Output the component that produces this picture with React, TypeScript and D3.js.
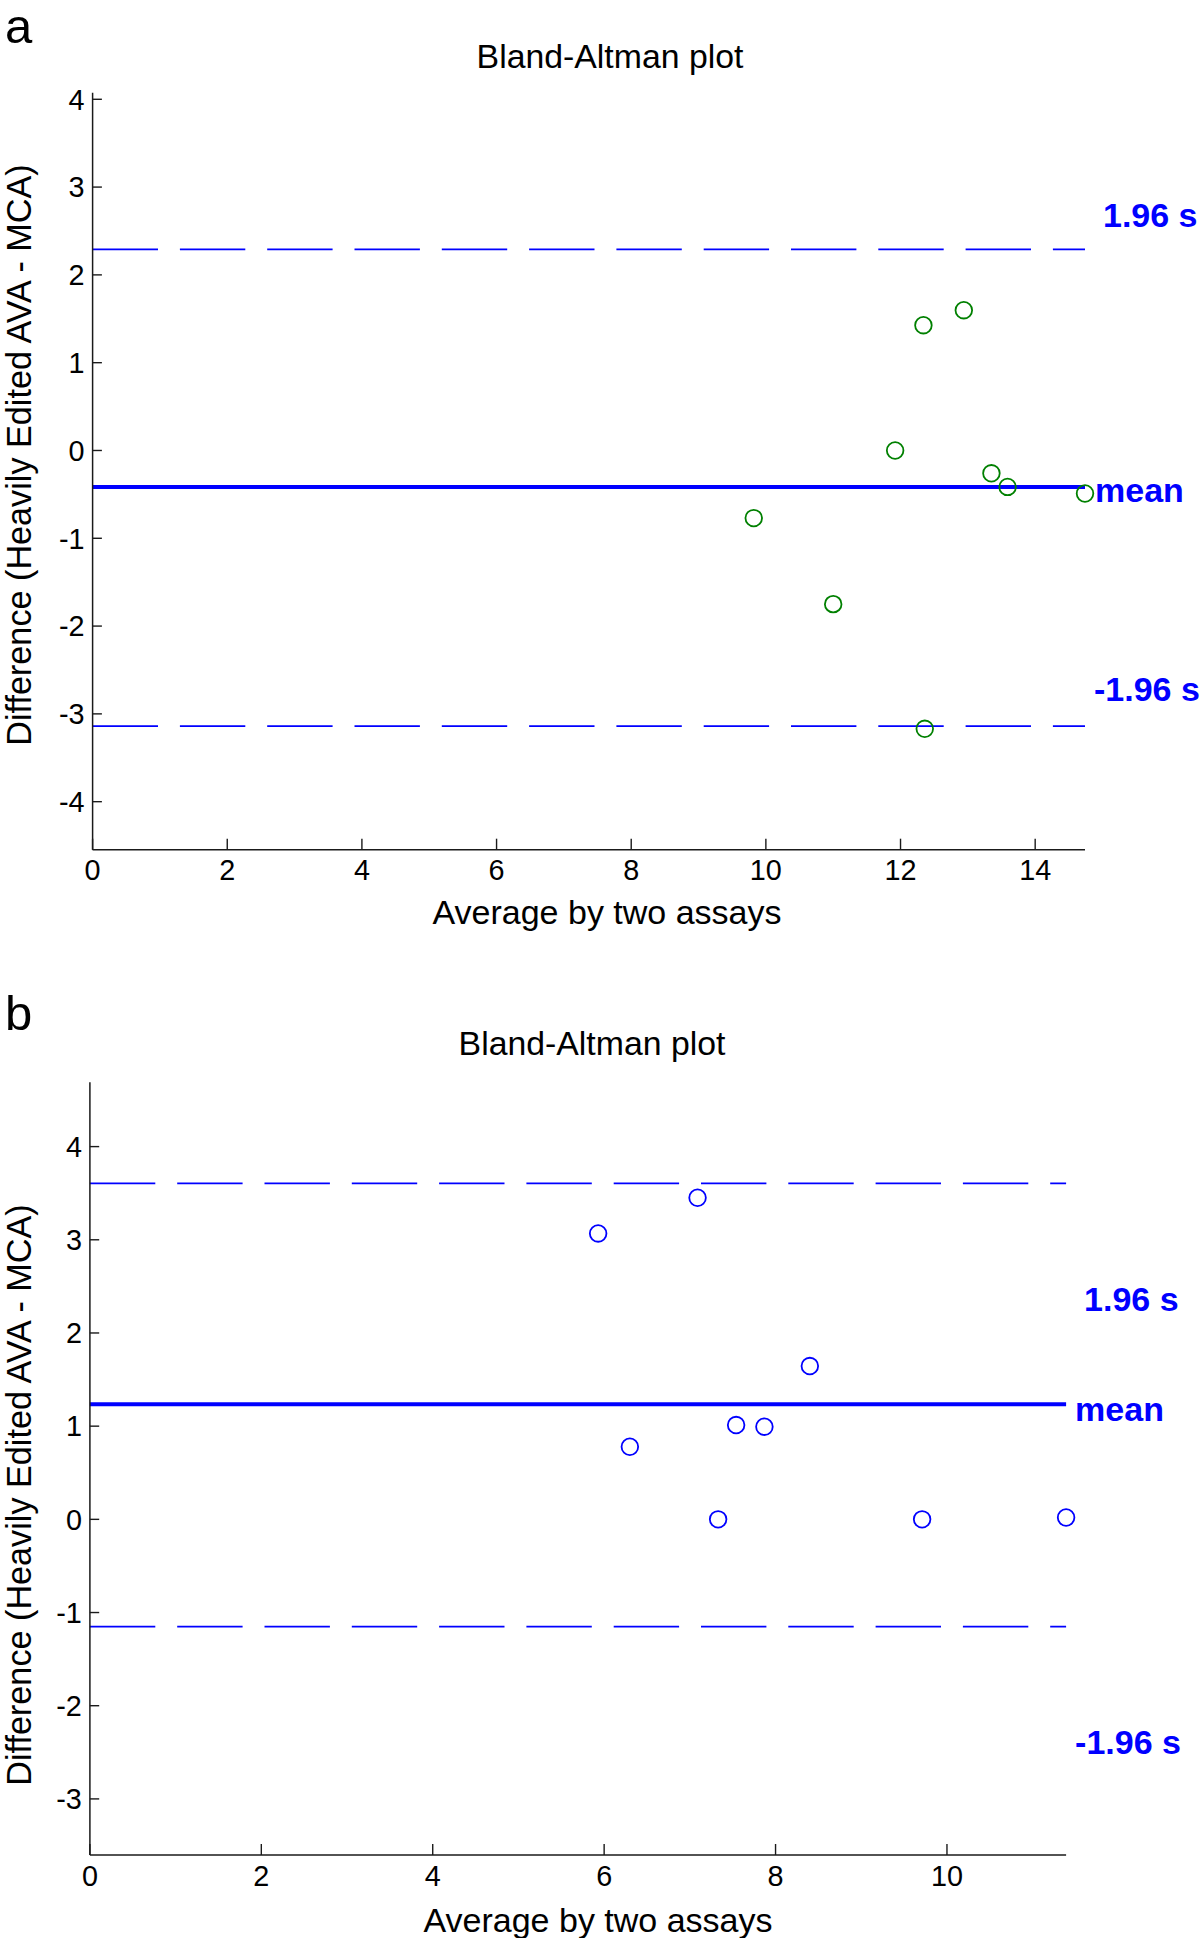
import React from "react";
import * as d3 from "d3";

// ---------- Data ----------
// Panel a
const avgA = [9.82, 11.0, 12.36, 13.35, 13.59, 14.74, 11.92, 12.34, 12.94];
const diffA = [-0.77, -1.75, -3.17, -0.26, -0.415, -0.49, 0.0, 1.427, 1.598];
const linesA = [2.29, -0.415, -3.14]; // +1.96 s, mean, -1.96 s
const xTicksA = [0, 2, 4, 6, 8, 10, 12, 14];
const yTicksA = [-4, -3, -2, -1, 0, 1, 2, 3, 4];

// Panel b
const avgB = [5.93, 7.09, 8.4, 6.3, 7.54, 7.87, 7.33, 9.71, 11.39];
const diffB = [3.068, 3.451, 1.645, 0.779, 1.012, 0.994, 0.0, 0.0, 0.02];
const linesB = [3.606, 1.234, -1.152];
const xTicksB = [0, 2, 4, 6, 8, 10];
const yTicksB = [-3, -2, -1, 0, 1, 2, 3, 4];

const lineLabels = ["1.96 s", "mean", "-1.96 s"];
const titleText = "Bland-Altman plot";
const xLabelText = "Average by two assays";
const yLabelText = "Difference (Heavily Edited AVA - MCA)";

// ---------- Layout / style ----------
const FONT = "'Liberation Sans', Arial, Helvetica, sans-serif";
const BLUE = "#0000ff";

type PanelCfg = {
  letter: string;
  letterY: number;
  avg: number[];
  diff: number[];
  lines: number[];
  xTicks: number[];
  yTicks: number[];
  xDomain: [number, number];
  yDomain: [number, number];
  xRange: [number, number];
  yRange: [number, number];
  pointColor: string;
  titleX: number;
  titleY: number;
  xLabelX: number;
  xLabelY: number;
  yLabelCY: number;
  labelAt: number[]; // label baselines in data units
  labelDx: number[];
};

const panels: PanelCfg[] = [
  {
    letter: "a",
    letterY: 43,
    avg: avgA,
    diff: diffA,
    lines: linesA,
    xTicks: xTicksA,
    yTicks: yTicksA,
    xDomain: [0, 14.74],
    yDomain: [-4.547, 4.075],
    xRange: [92.6, 1085],
    yRange: [849.7, 92.7],
    pointColor: "#008000",
    titleX: 610,
    titleY: 68,
    xLabelX: 607,
    xLabelY: 924,
    yLabelCY: 455,
    labelAt: [2.543, -0.589, -2.855],
    labelDx: [18, 10, 9],
  },
  {
    letter: "b",
    letterY: 1030,
    avg: avgB,
    diff: diffB,
    lines: linesB,
    xTicks: xTicksB,
    yTicks: yTicksB,
    xDomain: [0, 11.39],
    yDomain: [-3.602, 4.69],
    xRange: [89.9, 1066.1],
    yRange: [1855, 1082.3],
    pointColor: BLUE,
    titleX: 592,
    titleY: 1055,
    xLabelX: 598,
    xLabelY: 1932,
    yLabelCY: 1495,
    labelAt: [2.235, 1.055, -2.52],
    labelDx: [18, 9, 9],
  },
];

function Panel({ p }: { p: PanelCfg }) {
  const x = d3.scaleLinear().domain(p.xDomain).range(p.xRange);
  const y = d3.scaleLinear().domain(p.yDomain).range(p.yRange);
  const x0 = x(p.xDomain[0]);
  const x1 = x(p.xDomain[1]);
  const yBot = y(p.yDomain[0]);
  const yTop = y(p.yDomain[1]);
  const axisColor = "#1a1a1a";
  return (
    <g>
      <text x={5} y={p.letterY} fontFamily={FONT} fontSize={49} fill="#000">
        {p.letter}
      </text>
      <text
        x={p.titleX}
        y={p.titleY}
        textAnchor="middle"
        fontFamily={FONT}
        fontSize={33.8}
        fill="#000"
      >
        {titleText}
      </text>

      {/* limit lines */}
      {p.lines.map((v, i) => (
        <line
          key={"l" + i}
          x1={x0}
          x2={x1}
          y1={y(v)}
          y2={y(v)}
          stroke={BLUE}
          strokeWidth={i === 1 ? 4 : 1.8}
          strokeDasharray={i === 1 ? undefined : "65.4,21.9"}
        />
      ))}

      {/* points */}
      {p.avg.map((a, i) => (
        <circle
          key={"p" + i}
          cx={x(a)}
          cy={y(p.diff[i])}
          r={8.3}
          fill="none"
          stroke={p.pointColor}
          strokeWidth={1.8}
        />
      ))}

      {/* line labels */}
      {lineLabels.map((t, i) => (
        <text
          key={"t" + i}
          x={x1 + p.labelDx[i]}
          y={y(p.labelAt[i])}
          fontFamily={FONT}
          fontWeight="bold"
          fontSize={34}
          fill={BLUE}
        >
          {t}
        </text>
      ))}

      {/* axes */}
      <line x1={x0} x2={x0} y1={yTop} y2={yBot} stroke={axisColor} strokeWidth={1.5} />
      <line x1={x0} x2={x1} y1={yBot} y2={yBot} stroke={axisColor} strokeWidth={1.5} />
      {p.yTicks.map((t) => (
        <g key={"yt" + t}>
          <line x1={x0} x2={x0 + 9.3} y1={y(t)} y2={y(t)} stroke={axisColor} strokeWidth={1.4} />
          <text
            x={x0 - 8}
            y={y(t) + 10.3}
            textAnchor="end"
            fontFamily={FONT}
            fontSize={28.8}
            fill="#000"
          >
            {String(t)}
          </text>
        </g>
      ))}
      {p.xTicks.map((t) => (
        <g key={"xt" + t}>
          <line x1={x(t)} x2={x(t)} y1={yBot} y2={yBot - 11} stroke={axisColor} strokeWidth={1.4} />
          <text
            x={x(t)}
            y={yBot + 30.5}
            textAnchor="middle"
            fontFamily={FONT}
            fontSize={28.8}
            fill="#000"
          >
            {String(t)}
          </text>
        </g>
      ))}

      <text
        x={p.xLabelX}
        y={p.xLabelY}
        textAnchor="middle"
        fontFamily={FONT}
        fontSize={34}
        fill="#000"
      >
        {xLabelText}
      </text>
      <text
        transform={`translate(30.5,${p.yLabelCY}) rotate(-90)`}
        textAnchor="middle"
        fontFamily={FONT}
        fontSize={34.2}
        fill="#000"
      >
        {yLabelText}
      </text>
    </g>
  );
}

export default function App() {
  return (
    <svg
      width={1200}
      height={1938}
      viewBox="0 0 1200 1938"
      style={{ position: "absolute", left: 0, top: 0, background: "#fff" }}
    >
      <rect x={0} y={0} width={1200} height={1938} fill="#fff" />
      {panels.map((p) => (
        <Panel key={p.letter} p={p} />
      ))}
    </svg>
  );
}
